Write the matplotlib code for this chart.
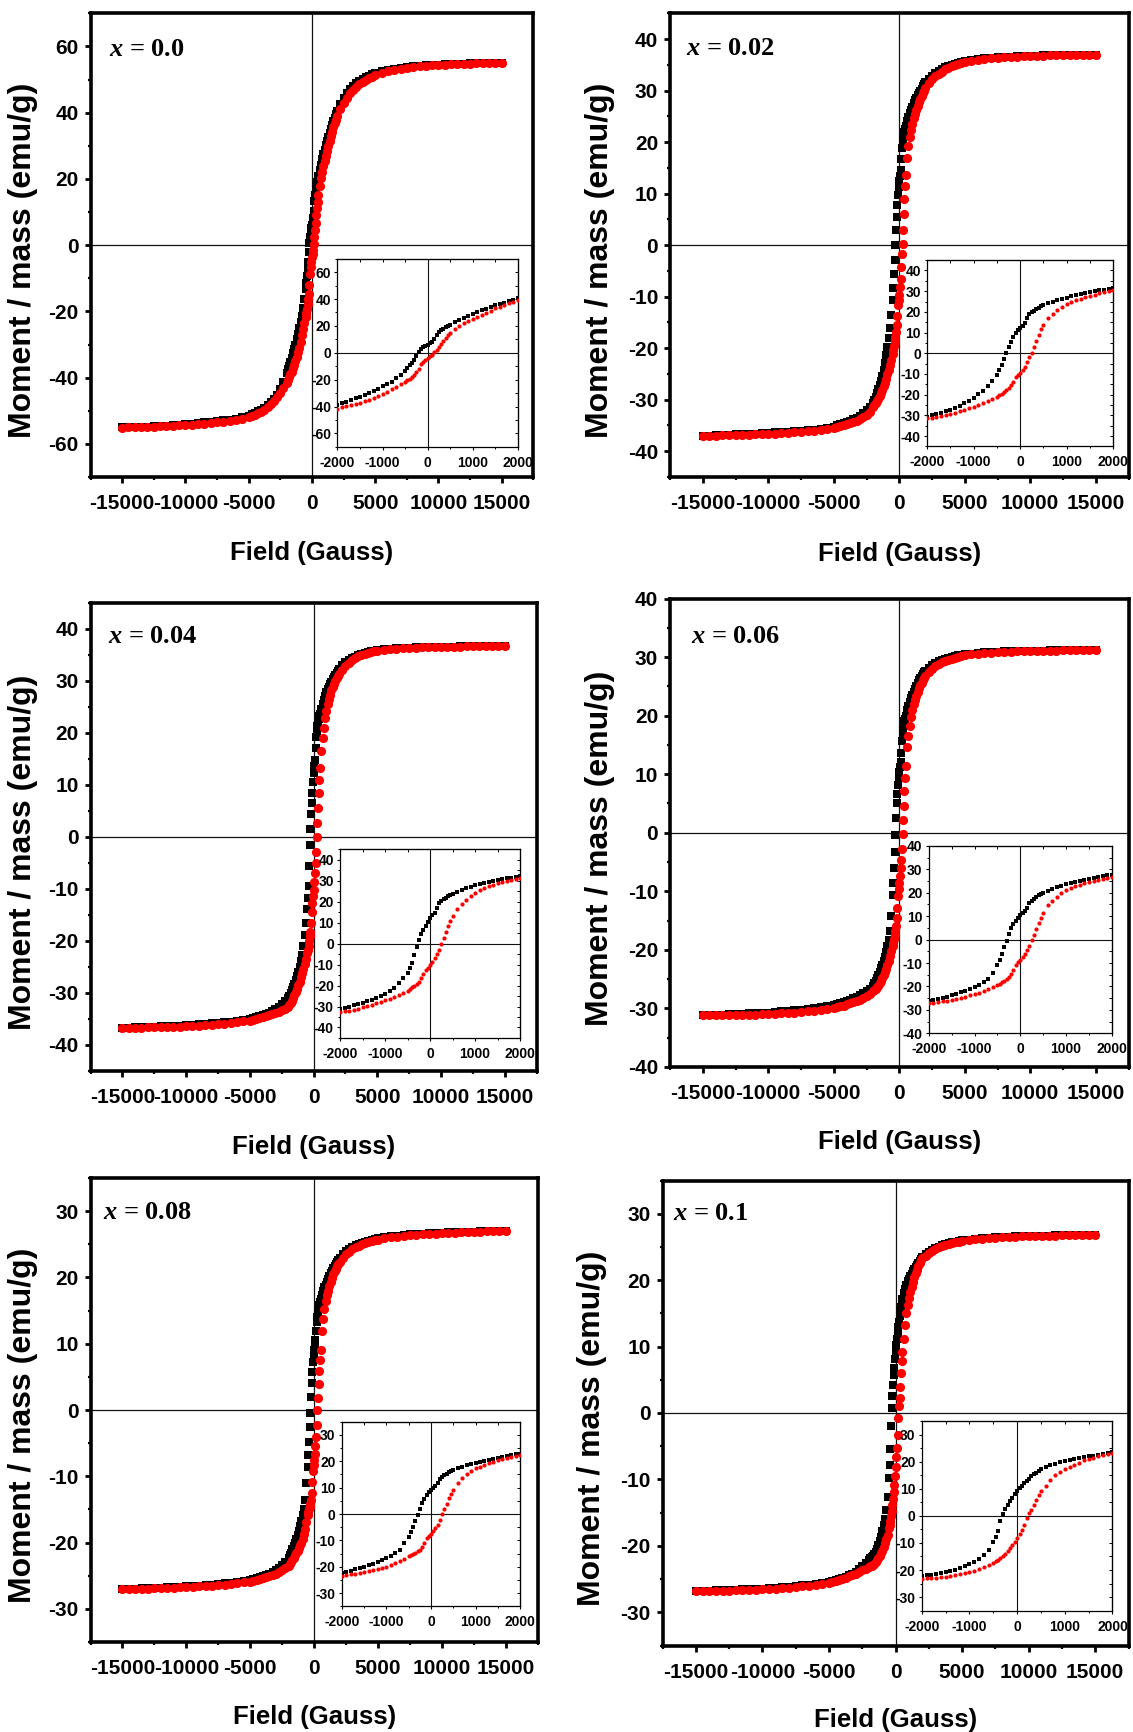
import matplotlib
matplotlib.use("Agg")
import matplotlib.pyplot as plt
from matplotlib.ticker import MultipleLocator, FuncFormatter

# ---------------- data ----------------
field = [-15000, -14500, -14000, -13500, -13000, -12500, -12000, -11500, -11000, -10500,
         -10000, -9500, -9000, -8500, -8000, -7500, -7000, -6500, -6000, -5500,
         -5000, -4750, -4500, -4250, -4000, -3750, -3500, -3250, -3000, -2750, -2500, -2250,
         -2000, -1900, -1800, -1700, -1600, -1500, -1400, -1300, -1200, -1100, -1000, -900, -800, -700, -600,
         -500, -450, -400, -350, -300, -250, -200, -150, -100, -50, 0, 50, 100, 150, 200, 250, 300, 350, 400, 450, 500,
         600, 700, 800, 900, 1000, 1100, 1200, 1300, 1400, 1500, 1600, 1700, 1800, 1900, 2000,
         2250, 2500, 2750, 3000, 3250, 3500, 3750, 4000, 4250, 4500, 4750, 5000,
         5500, 6000, 6500, 7000, 7500, 8000, 8500, 9000, 9500, 10000, 10500, 11000, 11500, 12000, 12500,
         13000, 13500, 14000, 14500, 15000]

# x = 0.0
down_00 = [-55.0, -54.95, -54.9, -54.85, -54.8, -54.7, -54.6, -54.5, -54.4, -54.3, -54.1, -53.9, -53.7, -53.5, -53.3, -53.1, -52.9, -52.7, -52.4, -52.0,
           -51.5, -51.1, -50.7, -50.2, -49.7, -49.1, -48.4, -47.5, -46.5, -45.1, -43.4, -41.2,
           -38.5, -37.5, -36.4, -35.3, -34.0, -32.7, -31.4, -30.0, -28.4, -26.8, -25.0, -23.3, -21.5, -19.1, -16.3,
           -13.2, -11.3, -9.4, -7.3, -5.0, -2.1, 0.7, 2.6, 4.0, 5.1, 6.0, 7.0, 8.3, 10.4, 13.3, 15.2, 16.7, 17.9, 19.0, 20.0, 20.9,
           22.6, 24.3, 25.9, 27.4, 28.8, 30.2, 31.5, 32.8, 34.0, 35.2, 36.3, 37.4, 38.5, 39.5, 40.5,
           42.6, 44.4, 45.9, 47.1, 48.1, 48.9, 49.6, 50.2, 50.7, 51.2, 51.6, 52.0,
           52.6, 53.0, 53.3, 53.6, 53.8, 54.0, 54.2, 54.3, 54.4, 54.5, 54.6, 54.7, 54.75, 54.8, 54.85, 54.9, 54.95, 55.0, 55.0, 55.1]
up_00 = [-55.1, -55.0, -54.95, -54.9, -54.85, -54.8, -54.7, -54.6, -54.5, -54.4, -54.3, -54.2, -54.0, -53.9, -53.7, -53.5, -53.3, -53.1, -52.8, -52.4,
         -52.0, -51.6, -51.2, -50.8, -50.3, -49.7, -49.0, -48.1, -47.1, -45.9, -44.6, -43.1,
         -41.5, -40.7, -39.9, -39.0, -38.2, -37.2, -36.2, -34.9, -33.7, -32.4, -31.0, -29.1, -27.2, -25.4, -23.5,
         -21.8, -20.6, -19.2, -17.7, -16.2, -14.6, -12.0, -8.6, -6.6, -5.0, -3.7, -2.7, -1.5, 0.3, 2.4, 4.6, 6.8, 9.0, 11.1, 13.1, 15.0,
         17.9, 20.2, 22.2, 24.0, 25.5, 27.0, 28.4, 29.9, 31.3, 33.0, 34.3, 35.6, 36.8, 37.9, 39.0,
         41.2, 43.0, 44.5, 45.8, 46.9, 47.8, 48.6, 49.3, 49.9, 50.4, 50.9, 51.3,
         52.0, 52.5, 52.9, 53.3, 53.6, 53.8, 54.0, 54.2, 54.3, 54.4, 54.5, 54.6, 54.7, 54.75, 54.8, 54.85, 54.9, 54.95, 55.0, 55.0]

# x = 0.02
down_02 = [-37.0, -36.95, -36.9, -36.85, -36.8, -36.75, -36.7, -36.65, -36.6, -36.5, -36.4, -36.35, -36.3, -36.2, -36.1, -36.0, -35.9, -35.8, -35.6, -35.4,
           -35.2, -35.0, -34.8, -34.6, -34.4, -34.1, -33.8, -33.5, -33.1, -32.6, -32.0, -31.4,
           -30.6, -30.0, -29.4, -28.7, -28.0, -27.2, -26.3, -25.3, -24.2, -22.9, -21.4, -19.8, -18.1, -16.0, -13.6,
           -10.7, -8.3, -5.6, -2.8, 0.0, 2.9, 5.5, 7.8, 9.7, 11.2, 12.4, 13.4, 14.6, 16.8, 18.8, 19.8, 20.6, 21.3, 22.0, 22.6, 23.2,
           24.1, 24.9, 25.6, 26.3, 26.9, 27.5, 28.1, 28.6, 29.1, 29.6, 30.0, 30.4, 30.8, 31.2, 31.6,
           32.3, 32.9, 33.4, 33.8, 34.2, 34.5, 34.8, 35.0, 35.2, 35.4, 35.6, 35.7,
           36.0, 36.15, 36.3, 36.4, 36.5, 36.55, 36.6, 36.65, 36.7, 36.75, 36.8, 36.82, 36.85, 36.88, 36.9, 36.92, 36.95, 36.97, 37.0, 37.0]
up_02 = [-37.0, -36.97, -36.95, -36.92, -36.9, -36.87, -36.85, -36.8, -36.75, -36.7, -36.65, -36.6, -36.5, -36.4, -36.3, -36.2, -36.1, -36.0, -35.8, -35.6,
         -35.4, -35.25, -35.1, -34.95, -34.8, -34.6, -34.4, -34.1, -33.8, -33.4, -32.9, -32.3,
         -31.5, -31.1, -30.7, -30.3, -29.8, -29.3, -28.7, -28.1, -27.4, -26.7, -25.9, -25.1, -24.2, -23.3, -22.3,
         -21.2, -20.4, -19.6, -18.7, -17.8, -16.8, -15.5, -13.7, -11.6, -10.6, -9.7, -8.2, -6.5, -4.2, -1.8, 0.3, 3.0, 6.0, 8.9, 11.5, 13.7,
         17.0, 19.2, 20.9, 22.4, 23.6, 24.6, 25.5, 26.3, 27.0, 27.7, 28.3, 28.9, 29.5, 30.0, 30.5,
         31.4, 32.2, 32.8, 33.3, 33.7, 34.1, 34.4, 34.7, 34.95, 35.15, 35.35, 35.5,
         35.8, 36.0, 36.15, 36.3, 36.4, 36.5, 36.55, 36.6, 36.65, 36.7, 36.75, 36.8, 36.82, 36.85, 36.88, 36.9, 36.93, 36.95, 36.97, 37.0]

# x = 0.04
down_04 = [-36.7, -36.65, -36.6, -36.55, -36.5, -36.45, -36.4, -36.35, -36.3, -36.25, -36.2, -36.1, -36.05, -35.95, -35.85, -35.75, -35.65, -35.5, -35.35, -35.2,
           -35.0, -34.85, -34.7, -34.5, -34.3, -34.05, -33.8, -33.5, -33.1, -32.7, -32.2, -31.6,
           -31.0, -30.5, -30.0, -29.5, -28.9, -28.2, -27.5, -26.7, -25.9, -25.0, -23.9, -22.6, -21.0, -18.9, -16.5,
           -13.9, -11.8, -9.4, -5.6, -1.5, 1.6, 4.4, 6.5, 8.4, 10.5, 12.4, 13.6, 14.8, 17.2, 19.3, 20.4, 21.3, 22.0, 22.6, 23.2, 23.7,
           24.7, 25.6, 26.4, 27.1, 27.8, 28.4, 28.9, 29.4, 29.9, 30.4, 30.8, 31.2, 31.6, 32.0, 32.4,
           33.1, 33.6, 34.0, 34.4, 34.7, 34.95, 35.2, 35.4, 35.55, 35.7, 35.85, 35.95,
           36.1, 36.2, 36.3, 36.35, 36.4, 36.45, 36.5, 36.52, 36.55, 36.57, 36.6, 36.62, 36.64, 36.66, 36.67, 36.68, 36.69, 36.7, 36.7, 36.7]
up_04 = [-36.7, -36.68, -36.66, -36.64, -36.62, -36.6, -36.57, -36.54, -36.5, -36.46, -36.4, -36.35, -36.3, -36.2, -36.1, -36.0, -35.9, -35.8, -35.6, -35.45,
         -35.3, -35.15, -35.0, -34.85, -34.7, -34.5, -34.3, -34.1, -33.9, -33.6, -33.3, -33.0,
         -32.7, -32.3, -31.9, -31.5, -31.0, -30.4, -29.8, -29.2, -28.5, -27.8, -27.0, -26.2, -25.3, -24.4, -23.4,
         -22.4, -21.7, -20.9, -20.0, -19.1, -18.2, -16.6, -14.4, -12.6, -11.4, -10.2, -8.6, -6.9, -5.0, -2.9, 0.0, 2.7, 5.5, 8.4, 10.9, 13.2,
         16.5, 19.0, 21.0, 22.8, 24.3, 25.5, 26.5, 27.4, 28.2, 28.9, 29.5, 30.0, 30.5, 30.9, 31.3,
         32.2, 32.9, 33.5, 34.0, 34.4, 34.75, 35.0, 35.2, 35.4, 35.55, 35.7, 35.8,
         36.0, 36.1, 36.2, 36.3, 36.35, 36.4, 36.45, 36.5, 36.53, 36.56, 36.58, 36.6, 36.62, 36.64, 36.66, 36.67, 36.68, 36.69, 36.7, 36.7]

# x = 0.06
down_06 = [-31.2, -31.15, -31.1, -31.05, -31.0, -30.95, -30.9, -30.85, -30.8, -30.75, -30.7, -30.6, -30.5, -30.4, -30.3, -30.2, -30.1, -29.95, -29.8, -29.6,
           -29.4, -29.25, -29.1, -28.9, -28.7, -28.5, -28.3, -28.0, -27.7, -27.4, -27.0, -26.6,
           -26.1, -25.7, -25.3, -24.8, -24.3, -23.7, -23.1, -22.5, -21.9, -21.2, -20.4, -19.4, -18.3, -16.8, -14.3,
           -10.7, -8.5, -6.1, -3.3, -0.4, 2.6, 5.0, 6.7, 8.1, 9.3, 10.4, 11.3, 12.1, 13.7, 15.6, 16.6, 17.5, 18.3, 19.0, 19.5, 20.0,
           20.9, 21.7, 22.4, 23.0, 23.6, 24.1, 24.6, 25.1, 25.6, 26.0, 26.4, 26.8, 27.1, 27.4, 27.7,
           28.2, 28.6, 28.95, 29.25, 29.5, 29.7, 29.9, 30.05, 30.2, 30.3, 30.4, 30.5,
           30.6, 30.7, 30.8, 30.85, 30.9, 30.95, 31.0, 31.02, 31.05, 31.07, 31.1, 31.12, 31.14, 31.16, 31.17, 31.18, 31.19, 31.2, 31.2, 31.2]
up_06 = [-31.2, -31.19, -31.18, -31.16, -31.14, -31.12, -31.1, -31.07, -31.04, -31.0, -30.95, -30.9, -30.85, -30.8, -30.7, -30.6, -30.5, -30.4, -30.25, -30.1,
         -29.95, -29.8, -29.65, -29.5, -29.3, -29.1, -28.9, -28.7, -28.5, -28.2, -27.9, -27.5,
         -27.1, -26.9, -26.6, -26.4, -26.1, -25.7, -25.3, -24.8, -24.3, -23.8, -23.3, -22.6, -21.9, -21.1, -20.2,
         -19.3, -18.8, -18.2, -17.5, -16.8, -16.0, -14.6, -12.9, -10.8, -9.6, -8.6, -7.4, -6.1, -4.6, -2.8, -0.2, 2.1, 4.6, 7.1, 9.4, 11.4,
         14.7, 16.6, 18.2, 19.7, 21.0, 21.9, 22.7, 23.4, 24.1, 24.7, 25.2, 25.6, 26.0, 26.4, 26.7,
         27.4, 28.0, 28.4, 28.8, 29.1, 29.35, 29.55, 29.75, 29.9, 30.05, 30.2, 30.3,
         30.45, 30.55, 30.65, 30.75, 30.8, 30.85, 30.9, 30.95, 31.0, 31.02, 31.05, 31.08, 31.1, 31.12, 31.14, 31.16, 31.17, 31.18, 31.19, 31.2]

# x = 0.08
down_08 = [-27.0, -26.97, -26.94, -26.9, -26.87, -26.84, -26.8, -26.76, -26.72, -26.68, -26.62, -26.56, -26.5, -26.42, -26.34, -26.25, -26.15, -26.05, -25.9, -25.75,
           -25.6, -25.5, -25.4, -25.25, -25.1, -24.95, -24.75, -24.5, -24.2, -23.85, -23.45, -22.95,
           -22.3, -21.9, -21.5, -21.0, -20.5, -20.0, -19.4, -18.8, -18.2, -17.5, -16.8, -15.9, -14.9, -13.6, -11.0,
           -8.6, -6.8, -4.8, -2.6, -0.4, 2.0, 4.0, 5.7, 7.2, 8.2, 9.1, 9.8, 10.6, 11.9, 13.3, 14.1, 14.7, 15.3, 15.8, 16.3, 16.7,
           17.4, 18.0, 18.5, 18.9, 19.3, 19.8, 20.2, 20.6, 21.0, 21.4, 21.7, 22.0, 22.3, 22.6, 22.9,
           23.5, 23.95, 24.3, 24.6, 24.85, 25.05, 25.25, 25.4, 25.55, 25.7, 25.8, 25.9,
           26.05, 26.2, 26.3, 26.4, 26.48, 26.55, 26.6, 26.65, 26.7, 26.74, 26.78, 26.82, 26.85, 26.88, 26.91, 26.93, 26.95, 26.97, 26.99, 27.0]
up_08 = [-27.0, -26.99, -26.97, -26.95, -26.93, -26.9, -26.87, -26.84, -26.8, -26.76, -26.72, -26.67, -26.62, -26.56, -26.5, -26.42, -26.34, -26.25, -26.15, -26.0,
         -25.9, -25.8, -25.7, -25.55, -25.4, -25.25, -25.1, -24.95, -24.75, -24.5, -24.2, -23.85,
         -23.5, -23.2, -22.9, -22.6, -22.3, -21.9, -21.6, -21.2, -20.8, -20.4, -20.0, -19.4, -18.7, -17.9, -16.9,
         -15.9, -15.4, -15.0, -14.6, -14.2, -13.6, -12.5, -10.9, -9.2, -8.3, -7.6, -6.6, -5.4, -4.0, -2.3, 0.0, 1.8, 3.9, 5.9, 7.6, 9.1,
         11.9, 13.8, 15.3, 16.4, 17.3, 18.0, 18.7, 19.3, 19.9, 20.5, 20.9, 21.3, 21.7, 22.1, 22.4,
         23.0, 23.5, 23.9, 24.25, 24.55, 24.8, 25.0, 25.2, 25.35, 25.5, 25.62, 25.72,
         25.9, 26.05, 26.15, 26.25, 26.35, 26.42, 26.5, 26.56, 26.62, 26.68, 26.72, 26.76, 26.8, 26.84, 26.87, 26.9, 26.93, 26.96, 26.98, 27.0]

# x = 0.1
down_10 = [-26.8, -26.77, -26.74, -26.71, -26.68, -26.65, -26.6, -26.56, -26.52, -26.47, -26.42, -26.36, -26.3, -26.22, -26.14, -26.05, -25.95, -25.85, -25.7, -25.55,
           -25.4, -25.3, -25.15, -25.0, -24.85, -24.65, -24.45, -24.2, -23.9, -23.55, -23.1, -22.6,
           -22.1, -21.9, -21.7, -21.5, -21.2, -20.9, -20.4, -19.9, -19.3, -18.6, -17.8, -16.9, -15.9, -14.6, -12.6,
           -9.8, -7.8, -5.4, -2.0, 0.8, 2.5, 4.2, 5.7, 6.7, 8.1, 9.4, 10.3, 11.2, 12.1, 12.9, 13.7, 14.6, 15.4, 16.0, 16.6, 17.2,
           18.0, 18.7, 19.3, 19.8, 20.2, 20.6, 21.0, 21.4, 21.7, 22.0, 22.3, 22.6, 22.9, 23.2, 23.5,
           23.9, 24.3, 24.6, 24.85, 25.05, 25.25, 25.4, 25.55, 25.68, 25.8, 25.9, 26.0,
           26.1, 26.2, 26.28, 26.35, 26.42, 26.48, 26.53, 26.57, 26.61, 26.64, 26.67, 26.7, 26.72, 26.74, 26.76, 26.77, 26.78, 26.79, 26.8, 26.8]
up_10 = [-26.8, -26.79, -26.78, -26.77, -26.75, -26.73, -26.7, -26.67, -26.64, -26.6, -26.55, -26.5, -26.44, -26.37, -26.3, -26.2, -26.1, -25.98, -25.85, -25.7,
         -25.55, -25.4, -25.25, -25.1, -24.95, -24.8, -24.6, -24.4, -24.2, -23.95, -23.7, -23.45,
         -23.2, -23.1, -23.0, -22.85, -22.7, -22.5, -22.2, -21.9, -21.5, -21.1, -20.7, -20.2, -19.6, -19.0, -18.3,
         -17.3, -16.8, -16.2, -15.5, -14.8, -13.9, -12.9, -11.9, -10.8, -9.5, -8.1, -6.6, -5.2, -3.3, -0.8, 1.0, 2.2, 3.9, 6.0, 7.8, 9.2,
         11.2, 13.3, 15.0, 16.3, 17.3, 18.2, 19.0, 19.7, 20.5, 21.1, 21.6, 22.1, 22.6, 23.0, 23.3,
         23.6, 24.05, 24.4, 24.7, 24.95, 25.15, 25.3, 25.45, 25.58, 25.7, 25.8, 25.88,
         26.0, 26.12, 26.22, 26.3, 26.37, 26.43, 26.48, 26.53, 26.57, 26.6, 26.63, 26.66, 26.69, 26.71, 26.73, 26.75, 26.77, 26.78, 26.79, 26.8]

labels = ["0.0", "0.02", "0.04", "0.06", "0.08", "0.1"]
y_limits = [70, 45, 45, 40, 35, 35]
y_steps = [20, 10, 10, 10, 10, 10]
inset_y_limits = [70, 45, 45, 40, 35, 35]
inset_y_steps = [20, 10, 10, 10, 10, 10]
down_sets = [down_00, down_02, down_04, down_06, down_08, down_10]
up_sets = [up_00, up_02, up_04, up_06, up_08, up_10]

# ---------------- layout ----------------
W, HPX = 1133, 1732
boxes = [(90.5, 13.3, 533.4, 477.0), (670.0, 13.3, 1128.5, 477.0),
         (90.5, 603.0, 536.7, 1071.0), (670.0, 598.5, 1128.5, 1067.0),
         (90.5, 1178.0, 537.8, 1642.0), (662.6, 1180.5, 1128.5, 1645.5)]
inset_frac = [(0.5576, 0.5293, 0.9649, 0.935), (0.5606, 0.5323, 0.9669, 0.9339),
              (0.5596, 0.5266, 0.9627, 0.9294), (0.5645, 0.5282, 0.9636, 0.928),
              (0.5620, 0.5254, 0.9605, 0.923), (0.5563, 0.5178, 0.9656, 0.9249)]
text_pos = [(0.041, 0.921), (0.035, 0.924), (0.039, 0.929), (0.046, 0.919), (0.028, 0.925), (0.022, 0.930)]
xlab_y = [-0.163, -0.166, -0.162, -0.161, -0.162, -0.161]

SANS = "Liberation Sans"
plt.rcParams["axes.unicode_minus"] = False
plt.rcParams["mathtext.fontset"] = "custom"
plt.rcParams["mathtext.it"] = "Liberation Serif:italic:bold"
plt.rcParams["mathtext.rm"] = "Liberation Serif:bold"

fig = plt.figure(figsize=(W / 100, HPX / 100), dpi=100)
fmt = FuncFormatter(lambda v, p: "%d" % int(round(v)))


def rect(l, t, r, b):
    return [l / W, 1 - b / HPX, (r - l) / W, (b - t) / HPX]


for i in range(6):
    l, t, r, b = boxes[i]
    ax = fig.add_axes(rect(l, t, r, b))
    n = min(len(field), len(down_sets[i]), len(up_sets[i]))
    ax.axhline(0, color="#111111", lw=0.9, zorder=1)
    ax.axvline(0, color="#111111", lw=0.9, zorder=1)
    ax.plot(field[:n], down_sets[i][:n], "s", color="black", ms=6, mew=0, zorder=2)
    ax.plot(field[:n], up_sets[i][:n], "o", color="#ff0000", ms=6.6, mew=0, zorder=3)
    ax.set_xlim(-17500, 17500)
    ax.set_ylim(-y_limits[i], y_limits[i])
    ax.xaxis.set_major_locator(MultipleLocator(5000))
    ax.xaxis.set_minor_locator(MultipleLocator(2500))
    ax.yaxis.set_major_locator(MultipleLocator(y_steps[i]))
    ax.yaxis.set_minor_locator(MultipleLocator(y_steps[i] / 2))
    ax.xaxis.set_major_formatter(fmt)
    ax.yaxis.set_major_formatter(fmt)
    ax.tick_params(which="both", direction="out", top=False, right=False)
    ax.tick_params(which="major", length=4.5, width=2.0, pad=4)
    ax.tick_params(axis="x", which="major", pad=8)
    ax.tick_params(which="minor", length=2.5, width=1.6)
    for lab in ax.get_xticklabels() + ax.get_yticklabels():
        lab.set_fontfamily(SANS)
        lab.set_fontweight("bold")
        lab.set_fontsize(15)
    for s in ax.spines.values():
        s.set_linewidth(2.6)
    ax.text(-0.152, 0.467, "Moment / mass (emu/g)", transform=ax.transAxes, rotation=90,
            ha="center", va="center", fontfamily=SANS, fontweight="bold", fontsize=23)
    ax.text(0.5, xlab_y[i], "Field (Gauss)", transform=ax.transAxes, ha="center", va="center",
            fontfamily=SANS, fontweight="bold", fontsize=18.5)
    tx, ty = text_pos[i]
    ax.text(tx, ty, r"$x$ = " + labels[i], transform=ax.transAxes, ha="left", va="center",
            fontfamily="Liberation Serif", fontweight="bold", fontsize=19)

    # inset
    fl, ft, fr, fb = inset_frac[i]
    bw, bh = r - l, b - t
    iax = fig.add_axes(rect(l + fl * bw, t + ft * bh, l + fr * bw, t + fb * bh))
    iax.axhline(0, color="#111111", lw=0.8, zorder=1)
    iax.axvline(0, color="#111111", lw=0.8, zorder=1)
    iax.plot(field[:n], down_sets[i][:n], "s", color="black", ms=2.6, mew=0, zorder=2)
    iax.plot(field[:n], up_sets[i][:n], "o", color="#ff0000", ms=3.0, mew=0, zorder=3)
    iax.set_xlim(-2000, 2000)
    iax.set_ylim(-inset_y_limits[i], inset_y_limits[i])
    iax.xaxis.set_major_locator(MultipleLocator(1000))
    iax.xaxis.set_minor_locator(MultipleLocator(500))
    iax.yaxis.set_major_locator(MultipleLocator(inset_y_steps[i]))
    iax.yaxis.set_minor_locator(MultipleLocator(inset_y_steps[i] / 2))
    iax.xaxis.set_major_formatter(fmt)
    iax.yaxis.set_major_formatter(fmt)
    iax.tick_params(which="both", direction="out", top=False, right=False)
    iax.tick_params(which="major", length=2.5, width=0.8, pad=2)
    iax.tick_params(axis="x", which="major", pad=4)
    iax.tick_params(which="minor", length=1.5, width=0.7)
    for lab in iax.get_xticklabels() + iax.get_yticklabels():
        lab.set_fontfamily(SANS)
        lab.set_fontweight("bold")
        lab.set_fontsize(10)
    for s in iax.spines.values():
        s.set_linewidth(0.9)
    sx = iax.secondary_xaxis("top")
    sx.xaxis.set_major_locator(MultipleLocator(500))
    sx.tick_params(direction="in", length=2, width=0.7, labeltop=False)
    sy = iax.secondary_yaxis("right")
    sy.yaxis.set_major_locator(MultipleLocator(inset_y_steps[i] / 2))
    sy.tick_params(direction="in", length=2, width=0.7, labelright=False)

fig.savefig("out.png", dpi=100)
